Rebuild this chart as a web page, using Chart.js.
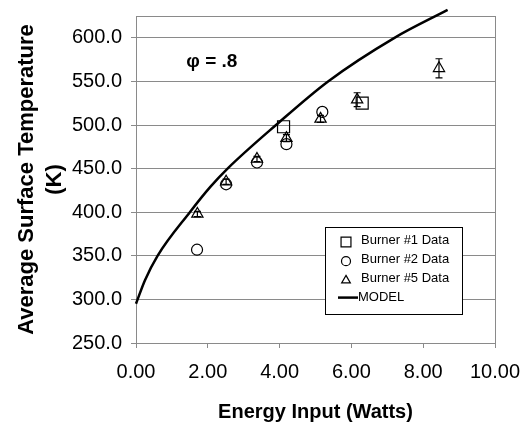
<!DOCTYPE html>
<html>
<head>
<meta charset="utf-8">
<script src="https://cdn.jsdelivr.net/npm/chart.js@4/dist/chart.umd.min.js"></script>
<style>
  html, body { margin: 0; padding: 0; background: #fff; }
  #wrap { width: 521px; height: 424px; position: relative; }
</style>
</head>
<body>
<div id="wrap"><canvas id="c"></canvas></div>
<script>
// waarden
const burner1X = [4.11, 6.30];
const burner1Y = [498, 525];

const burner2X = [1.70, 2.51, 3.37, 4.19, 5.19];
const burner2Y = [357, 432, 457, 478, 515];

const burner5X = [1.71, 2.51, 3.37, 4.19, 5.14, 6.16, 8.44];
const burner5Y = [398, 435, 461, 485, 507, 529, 565];
const burner5Err = [3, 3, 3, 4, 4, 8, 11];

const modelX = [0, 0.25, 0.6, 1.5, 2.07, 2.55, 3.9, 5.35, 7.2, 8.68];
const modelY = [295, 322, 350, 400, 429, 450, 500, 550, 600, 632];

const xTicks = [0, 2, 4, 6, 8, 10];
const yTicks = [250, 300, 350, 400, 450, 500, 550, 600];

const FONT = "'Liberation Sans', Arial, sans-serif";
const GRID = "#8a8a8a";

const pts = (xs, ys) => xs.map((x, i) => ({ x, y: ys[i] }));

// frame om het plotgebied
const framePlugin = {
  id: "frame",
  beforeDatasetsDraw(chart) {
    const { ctx, chartArea: a } = chart;
    ctx.save();
    ctx.strokeStyle = GRID;
    ctx.lineWidth = 1;
    ctx.strokeRect(a.left + 0.5, a.top + 0.5, a.right - a.left, a.bottom - a.top);
    ctx.restore();
  },
};

// foutbalken voor burner #5
const errorPlugin = {
  id: "errbars",
  afterDatasetsDraw(chart) {
    const { ctx, scales } = chart;
    ctx.save();
    ctx.strokeStyle = "#000";
    ctx.lineWidth = 1.2;
    burner5X.forEach((x, i) => {
      const px = scales.x.getPixelForValue(x);
      const top = scales.y.getPixelForValue(burner5Y[i] + burner5Err[i]);
      const bot = scales.y.getPixelForValue(burner5Y[i] - burner5Err[i]);
      ctx.beginPath();
      ctx.moveTo(px, top); ctx.lineTo(px, bot);
      ctx.moveTo(px - 3.5, top); ctx.lineTo(px + 3.5, top);
      ctx.moveTo(px - 3.5, bot); ctx.lineTo(px + 3.5, bot);
      ctx.stroke();
    });
    ctx.restore();
  },
};

// legenda binnen het plotgebied + phi label
const legendPlugin = {
  id: "innerLegend",
  afterDraw(chart) {
    const { ctx, chartArea: a, scales } = chart;
    ctx.save();
    const bx = a.left + 189, by = a.top + 211, bw = 137, bh = 87;
    ctx.fillStyle = "#fff";
    ctx.fillRect(bx, by, bw, bh);
    ctx.strokeStyle = "#000";
    ctx.lineWidth = 1;
    ctx.strokeRect(bx + 0.5, by + 0.5, bw, bh);

    ctx.font = "13px " + FONT;
    ctx.textBaseline = "middle";
    chart.data.datasets.forEach((ds, i) => {
      const cy = by + 13 + i * 19.2;
      const mx = bx + 21;
      ctx.strokeStyle = "#000";
      if (ds.showLine) {
        ctx.lineWidth = 2.5;
        ctx.beginPath();
        ctx.moveTo(bx + 13, cy); ctx.lineTo(bx + 33, cy);
        ctx.stroke();
      } else {
        ctx.fillStyle = "rgba(0,0,0,0)";
        ctx.lineWidth = 1.2;
        Chart.helpers.drawPoint(ctx, { pointStyle: ds.pointStyle, radius: ds.legendRadius, borderWidth: 1.2 }, mx, cy + 2);
      }
      ctx.fillStyle = "#000";
      ctx.fillText(ds.label, bx + (ds.showLine ? 33 : 36), cy);
    });

    ctx.font = "bold 19px " + FONT;
    ctx.textBaseline = "middle";
    ctx.fillStyle = "#000";
    ctx.fillText("\u03c6 = .8", scales.x.getPixelForValue(1.4), scales.y.getPixelForValue(572));
    ctx.restore();
  },
};

new Chart(document.getElementById("c"), {
  type: "scatter",
  data: {
    datasets: [
      {
        label: "Burner #1 Data",
        data: pts(burner1X, burner1Y),
        pointStyle: "rect",
        pointRadius: 8.5,
        legendRadius: 7,
        borderColor: "#000",
        backgroundColor: "rgba(0,0,0,0)",
        borderWidth: 1.2,
      },
      {
        label: "Burner #2 Data",
        data: pts(burner2X, burner2Y),
        pointStyle: "circle",
        pointRadius: 5.5,
        legendRadius: 4.5,
        borderColor: "#000",
        backgroundColor: "rgba(0,0,0,0)",
        borderWidth: 1.2,
      },
      {
        label: "Burner #5 Data",
        data: pts(burner5X, burner5Y),
        pointStyle: "triangle",
        pointRadius: 6.5,
        legendRadius: 5,
        borderColor: "#000",
        backgroundColor: "rgba(0,0,0,0)",
        borderWidth: 1.2,
      },
      {
        label: "MODEL",
        data: pts(modelX, modelY),
        showLine: true,
        pointRadius: 0,
        borderColor: "#000",
        borderWidth: 2.5,
        cubicInterpolationMode: "monotone",
        clip: false,
      },
    ],
  },
  options: {
    responsive: true,
    maintainAspectRatio: false,
    animation: false,
    layout: { padding: { top: 16, right: 26, left: 0, bottom: 0 } },
    plugins: { legend: { display: false }, tooltip: { enabled: false } },
    scales: {
      x: {
        type: "linear",
        min: 0,
        max: 10,
        afterBuildTicks: (s) => { s.ticks = xTicks.map((v) => ({ value: v })); },
        afterFit: (s) => {
          s.height = 424 - 343;
          s.paddingLeft = 0;
          s.paddingRight = 0;
        },
        grid: { drawOnChartArea: false, color: GRID, tickLength: 5 },
        border: { color: GRID },
        ticks: {
          color: "#000",
          font: { family: FONT, size: 20 },
          padding: 12,
          maxRotation: 0,
          callback: (v) => Number(v).toFixed(2),
        },
        title: {
          display: true,
          text: "Energy Input (Watts)",
          color: "#000",
          font: { family: FONT, size: 20, weight: "bold" },
          padding: { top: 14, bottom: 0 },
        },
      },
      y: {
        type: "linear",
        min: 250,
        max: 625,
        afterBuildTicks: (s) => { s.ticks = yTicks.map((v) => ({ value: v })); },
        afterFit: (s) => {
          s.width = 136;
          s.paddingTop = 0;
          s.paddingBottom = 0;
        },
        grid: { color: GRID, tickLength: 5 },
        border: { color: GRID },
        ticks: {
          color: "#000",
          font: { family: FONT, size: 20 },
          padding: 9,
          callback: (v) => Number(v).toFixed(1),
        },
        title: {
          display: true,
          text: ["Average Surface Temperature", "(K)"],
          color: "#000",
          font: { family: FONT, size: 22, weight: "bold", lineHeight: 1.27 },
          padding: { top: 13, bottom: 0 },
        },
      },
    },
  },
  plugins: [framePlugin, errorPlugin, legendPlugin],
});
</script>
</body>
</html>
